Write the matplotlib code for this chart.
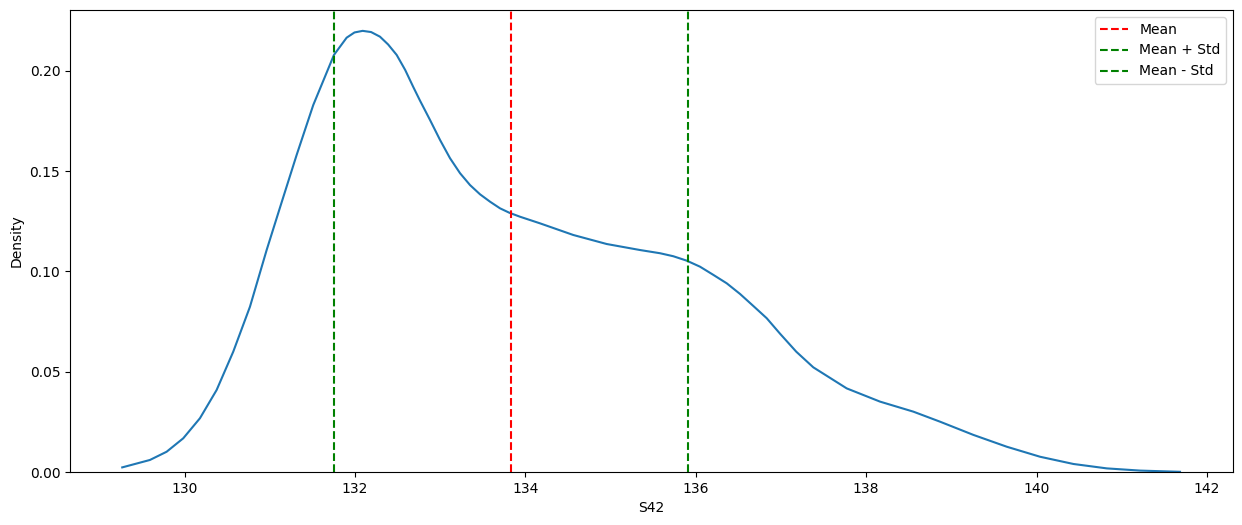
import matplotlib
matplotlib.use("Agg")
import matplotlib.pyplot as plt

# KDE curve points
kde_x = [129.269, 129.594, 129.790, 129.985, 130.181, 130.377, 130.572, 130.768,
         130.964, 131.120, 131.316, 131.511, 131.754, 131.903, 131.995, 132.091,
         132.190, 132.294, 132.390, 132.490, 132.590, 132.685, 132.764, 132.881,
         132.999, 133.116, 133.234, 133.351, 133.468, 133.586, 133.703, 133.812,
         133.938, 134.173, 134.563, 134.955, 135.346, 135.581, 135.737, 135.894,
         136.050, 136.207, 136.364, 136.520, 136.676, 136.833, 136.989, 137.180,
         137.380, 137.772, 138.163, 138.554, 138.867, 139.259, 139.651, 140.042,
         140.433, 140.825, 141.216, 141.684]
kde_y = [0.0023, 0.0060, 0.0101, 0.0168, 0.0268, 0.0409, 0.0600, 0.0824,
         0.1107, 0.1318, 0.1581, 0.1830, 0.2080, 0.2166, 0.2192, 0.2200,
         0.2194, 0.2171, 0.2132, 0.2080, 0.2005, 0.1920, 0.1852, 0.1756,
         0.1656, 0.1565, 0.1490, 0.1431, 0.1385, 0.1348, 0.1315, 0.1293,
         0.1273, 0.1240, 0.1182, 0.1137, 0.1107, 0.1091, 0.1076, 0.1054,
         0.1024, 0.0983, 0.0941, 0.0888, 0.0828, 0.0767, 0.0690, 0.0600,
         0.0522, 0.0417, 0.0351, 0.0301, 0.0251, 0.0185, 0.0126, 0.0076,
         0.0040, 0.0018, 0.0007, 0.0001]

mean_val = 133.83
std_val = 2.075

fig = plt.figure(figsize=(12.42, 5.25), dpi=100)
ax = fig.add_axes([70 / 1242, 53 / 525, 1163 / 1242, 462 / 525])

ax.plot(kde_x, kde_y, color="#1f77b4", lw=1.5)
ax.axvline(mean_val, color="red", linestyle="--", label="Mean")
ax.axvline(mean_val + std_val, color="green", linestyle="--", label="Mean + Std")
ax.axvline(mean_val - std_val, color="green", linestyle="--", label="Mean - Std")

ax.set_xlim(128.656, 142.306)
ax.set_ylim(0, 0.2304)
ax.set_xticks([130, 132, 134, 136, 138, 140, 142])
ax.set_yticks([0.00, 0.05, 0.10, 0.15, 0.20])
ax.set_xlabel("S42")
ax.set_ylabel("Density")
ax.legend(loc="upper right")

fig.savefig("out.png", dpi=100)
